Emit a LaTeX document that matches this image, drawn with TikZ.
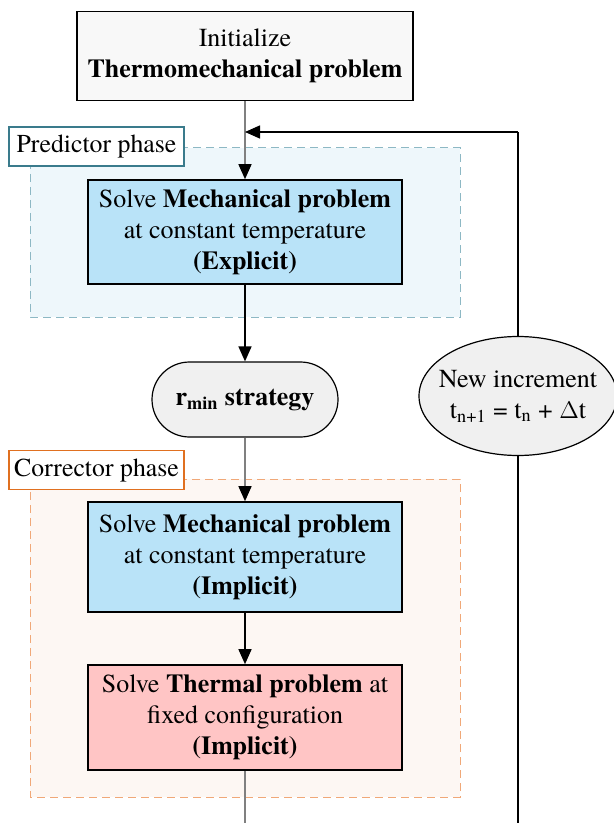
\documentclass[tikz,border=0pt]{standalone}
\usepackage{fontspec}
\setmainfont{texgyretermes}[Extension=.otf, UprightFont=*-regular, BoldFont=*-bold, ItalicFont=*-italic, BoldItalicFont=*-bolditalic]
\usetikzlibrary{arrows.meta,shapes.geometric,shapes.misc}
\definecolor{initfill}{HTML}{F8F8F8}
\definecolor{mechfill}{HTML}{B9E3F8}
\definecolor{thermfill}{HTML}{FFC5C5}
\definecolor{predfill}{HTML}{EEF7FB}
\definecolor{preddash}{HTML}{8DB8C4}
\definecolor{predlab}{HTML}{3A7B8C}
\definecolor{corrfill}{HTML}{FDF7F3}
\definecolor{corrdash}{HTML}{F0A878}
\definecolor{corrlab}{HTML}{E07020}
\definecolor{termfill}{HTML}{F0F0F0}
\definecolor{linegray}{HTML}{808080}
\tikzset{
  txt/.style={font=\fontsize{13}{15.5}\selectfont, align=center, inner sep=0pt},
  procbox/.style={txt, draw=black, line width=0.8pt, minimum width=157pt},
  region/.style={draw, dashed, dash pattern=on 4pt off 2.5pt, line width=0.5pt},
  phaselab/.style={draw, fill=white, line width=0.8pt, inner sep=0pt,
    font=\fontsize{12.9}{14}\selectfont, minimum width=87.5pt, minimum height=19.5pt},
  arr/.style={-{Triangle[length=7.5pt,width=6.5pt,color=black,fill=black]}, line width=0.7pt},
  blk/.style={draw=black, line width=0.7pt},
  gry/.style={draw=linegray, line width=0.7pt}
}
\begin{document}
\begin{tikzpicture}[x=0.5pt,y=-0.5pt]
\useasboundingbox (0,0) rectangle (614,823);
% regions
\draw[region, draw=preddash, fill=predfill] (30,148) rectangle (460,317);
\draw[region, draw=corrdash, fill=corrfill] (30,479) rectangle (460,797);
% nodes
\node[procbox, fill=initfill, minimum width=168pt, minimum height=44.5pt] (init) at (245,56)
  {Initialize\\\textbf{Thermomechanical problem}};
\node[procbox, fill=mechfill, minimum height=52pt] (expl) at (245,232)
  {Solve \textbf{Mechanical problem}\\at constant temperature\\\textbf{(Explicit)}};
\node[txt, draw=black, line width=0.6pt, fill=termfill, rounded rectangle,
  minimum width=93pt, minimum height=37.5pt] (rmin) at (245,399.5)
  {\textbf{r\textsubscript{min} strategy}};
\node[procbox, fill=mechfill, minimum height=55pt] (impl) at (245,557)
  {Solve \textbf{Mechanical problem}\\at constant temperature\\\textbf{(Implicit)}};
\node[procbox, fill=thermfill, minimum height=52.5pt] (therm) at (245,717.5)
  {Solve \textbf{Thermal problem} at\\fixed configuration\\\textbf{(Implicit)}};
\node[txt, draw=black, line width=0.6pt, fill=termfill, ellipse, inner xsep=-12pt,
  minimum width=99pt, minimum height=59.5pt] (incr) at (518,396)
  {New increment\\t\textsubscript{n+1} = t\textsubscript{n} + $\Delta$t};
\node[phaselab, draw=predlab] (predlab) at (96.5,146.5) {Predictor phase};
\node[phaselab, draw=corrlab] (corrlab) at (96.5,470) {Corrector phase};
% coordinates
\coordinate (join) at (245,132);
\coordinate (rtop) at (518,132);
\coordinate (rbot) at (518,823);
\coordinate (lbot) at (245,823);
% connectors
\draw[gry] (init.south) -- (join);
\draw[gry, arr] (join) -- (expl.north);
\draw[blk, arr] (expl.south) -- (rmin.north);
\draw[gry, arr] (rmin.south) -- (impl.north);
\draw[blk, arr] (impl.south) -- (therm.north);
\draw[gry] (therm.south) -- (lbot);
\draw[blk] (rbot) -- (incr.south);
\draw[blk] (incr.north) -- (rtop);
\draw[blk, arr] (rtop) -- (join);
\end{tikzpicture}
\end{document}
